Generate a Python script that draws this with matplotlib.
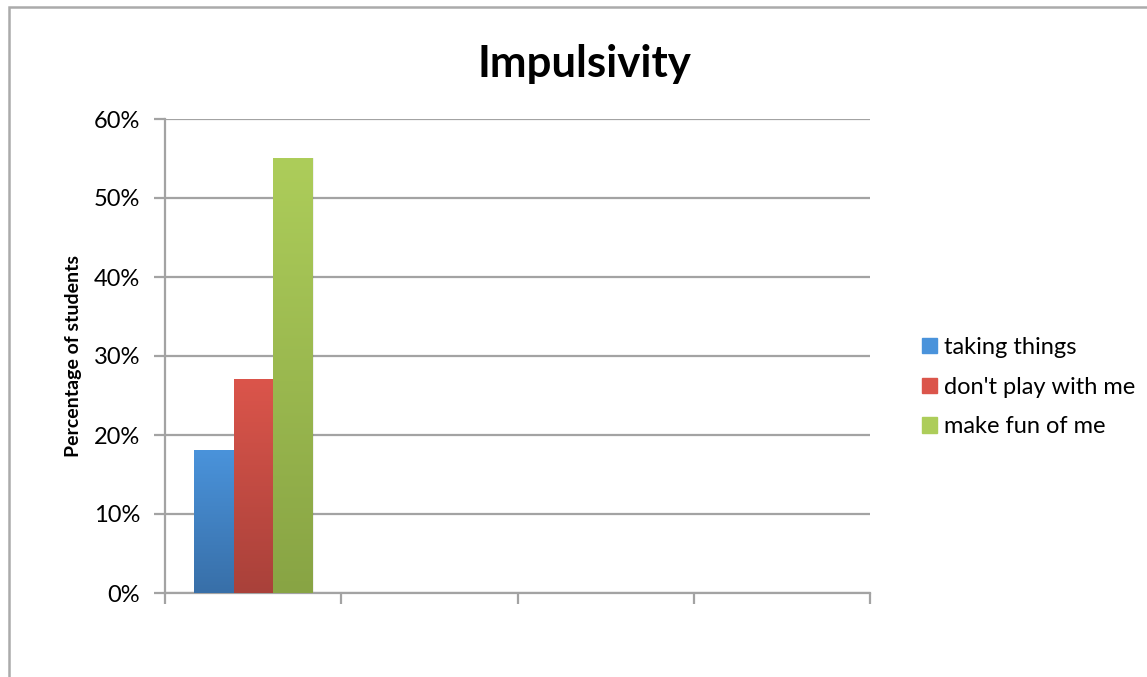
import numpy as np
import matplotlib.pyplot as plt
from matplotlib.colors import LinearSegmentedColormap
from matplotlib.patches import Rectangle
from matplotlib.ticker import PercentFormatter

plt.rcParams['font.family'] = ['Lato', 'DejaVu Sans']

# --------------------DATA-------------------- #
categories = ["", "", "", ""]
series = ["taking things", "don't play with me", "make fun of me"]
values = [0.18, 0.27, 0.55]          # only first category has answers
yticks = [0, 0.1, 0.2, 0.3, 0.4, 0.5, 0.6]

# top / bottom colours for each bar's gradient
topColors = ["#4a93db", "#db554b", "#adcd5a"]
bottomColors = ["#386fa8", "#a9413a", "#88a444"]

# --------------------FIGURE-------------------- #
fig = plt.figure()
fig.set_size_inches(11.47, 6.77)
fig.set_dpi(100)
ax = fig.add_axes([165/1147, 1-593/677, 705/1147, 474/677])

# outer chart border (runs off the right / bottom edges)
fig.patches.append(Rectangle((9/1147, -0.1), 1.2, 1 - 7/677 + 0.1, transform=fig.transFigure,
                             fill=False, edgecolor="#ababab", linewidth=1.8, zorder=0))

nCat = len(categories)
barW = 0.222
offsets = (np.arange(len(series)) - 1) * barW

for i, name in enumerate(series):
    b = ax.bar(0.5 + offsets[i], values[i], width=barW, color=topColors[i],
               label=name, zorder=3, linewidth=0)
    # gradient fill inside the bar
    rect = b[0]
    x0, w, h = rect.get_x(), rect.get_width(), rect.get_height()
    cmap = LinearSegmentedColormap.from_list("g%d" % i, [bottomColors[i], topColors[i]])
    grad = np.linspace(0, 1, 256).reshape(-1, 1)
    ax.imshow(grad, cmap=cmap, aspect="auto", origin="lower",
              extent=[x0, x0 + w, 0, h], zorder=4)
    # faint shadow on right side
    ax.add_patch(Rectangle((x0 + w, 0), 0.012, h, color="#000000", alpha=0.06,
                           linewidth=0, zorder=2))

ax.set_xlim(0, nCat)
ax.set_ylim(0, 0.6)
ax.set_yticks(yticks)
ax.yaxis.set_major_formatter(PercentFormatter(1.0, decimals=0))
ax.set_xticks(np.arange(nCat + 1))
ax.set_xticklabels([])

ax.grid(axis="y", color="#a3a3a3", linewidth=1.6, zorder=1)
ax.set_axisbelow(True)
for s in ["top", "right"]:
    ax.spines[s].set_visible(False)
for s in ["left", "bottom"]:
    ax.spines[s].set_color("#a3a3a3")
    ax.spines[s].set_linewidth(1.6)
ax.tick_params(axis="both", direction="out", length=8, width=1.6, color="#a3a3a3",
               labelsize=17, pad=10)

ax.set_ylabel("Percentage of students", fontsize=14, fontweight="bold", labelpad=8)
fig.text(584/1147, 1-77/677, "Impulsivity", fontsize=31.5, fontweight="bold",
         ha="center", va="baseline")

handles = [Rectangle((0, 0), 1, 1, color=c) for c in topColors]
fig.legend(handles, series, loc="center left", bbox_to_anchor=(901/1147, 1-387/677),
           frameon=False, fontsize=17, handlelength=0.62, handleheight=0.62,
           handletextpad=0.3, labelspacing=0.8)

fig.savefig("out.png", dpi=100)
